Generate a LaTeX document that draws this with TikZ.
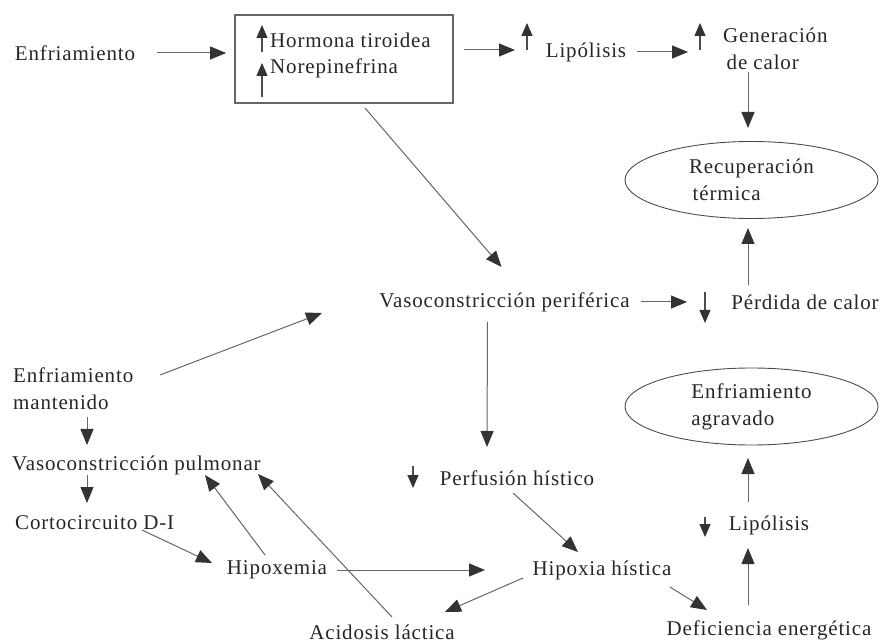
\documentclass[tikz,border=0pt]{standalone}
\usepackage{fontspec}
\setmainfont{Liberation Serif}[LetterSpace=4]
\usetikzlibrary{arrows.meta,shapes.geometric,calc}

\begin{document}
\begin{tikzpicture}[x=1pt,y=-1pt,
    texto/.style={inner sep=0pt, text=black!85, font=\fontsize{21}{27}\selectfont},
    flecha/.style={draw=black!60, line width=1pt, -{Triangle[length=16pt,width=13pt,color=black!80]}},
    indic/.style={draw=black!70, line width=1.1pt, -{Triangle[length=13pt,width=11pt,color=black!80]}},
    globo/.style={texto, ellipse, draw=black!70, line width=0.9pt, align=left, minimum width=253pt, minimum height=77pt}]
    \useasboundingbox (0,0) rectangle (887,644);

    % Top row: cold stimulus and the hormone box
    \node[texto] (enf1) at (75,53) {Enfriamiento};
    \node[draw=black!60, line width=1.8pt, minimum width=218pt, minimum height=88pt, inner sep=0pt] (caja) at (344,59) {};
    \node[texto, anchor=west] (hormona) at (270,40) {Hormona tiroidea};
    \node[texto, anchor=west] (norep) at (270,68) {Norepinefrina};
    \node[texto] (lip1) at (586,52) {Lipólisis};
    \node[texto, anchor=west, align=left] (gen) at (723,48.5) {Generación\\\,de calor};
    \node[globo] (rec) at (751.5,180) {Recuperación\\\,térmica};

    % Middle row
    \node[texto] (vper) at (504.5,302) {Vasoconstricción periférica};
    \node[texto] (perd) at (805,302) {Pérdida de calor};
    \node[texto, anchor=west, align=left] (enf2) at (13,389) {Enfriamiento\\mantenido};
    \node[globo] (agr) at (751.5,406.5) {Enfriamiento\\agravado};

    % Lower part
    \node[texto, anchor=west] (vpul) at (12,465) {Vasoconstricción pulmonar};
    \node[texto, anchor=west] (cort) at (15,523) {Cortocircuito D-I};
    \node[texto] (perf) at (517,478) {Perfusión hístico};
    \node[texto] (lip2) at (769,525) {Lipólisis};
    \node[texto] (hipoxemia) at (277,570) {Hipoxemia};
    \node[texto] (hipoxia) at (602,570) {Hipoxia hística};
    \node[texto] (acid) at (382,632) {Acidosis láctica};
    \node[texto] (def) at (769,630) {Deficiencia energética};

    % Small up/down marks in front of the labels
    \draw[indic] ($(hormona.west)+(-8,12)$) -- ($(hormona.west)+(-8,-15)$);
    \draw[indic] ($(norep.west)+(-8,29)$) -- ($(norep.west)+(-8,-5)$);
    \draw[indic] ($(lip1)+(-59,-2)$) -- ($(lip1)+(-59,-29)$);
    \draw[indic] ($(gen.west)+(-23,1.5)$) -- ($(gen.west)+(-23,-25.5)$);
    \draw[indic] ($(perd)+(-100,-10)$) -- ($(perd)+(-100,21)$);
    \draw[indic] ($(perf)+(-104,-12)$) -- ($(perf)+(-104,10)$);
    \draw[indic] ($(lip2)+(-64,-8)$) -- ($(lip2)+(-64,12)$);

    % Top chain
    \draw[flecha] ($(enf1)+(82,0)$) -- ($(caja.west)+(-8,-6)$);
    \draw[flecha] ($(caja.east)+(10,-9)$) -- ($(lip1)+(-71,-2)$);
    \draw[flecha] ($(lip1)+(51,0)$) -- ($(gen.west)+(-35,3.5)$);
    \draw[flecha] ($(rec)+(-3.5,-108)$) -- ($(rec)+(-3.5,-52)$);
    \draw[flecha] ($(caja)+(21,49)$) -- ($(vper)+(-3,-35)$);

    % Heat loss branch
    \draw[flecha] ($(vper)+(136,0)$) -- ($(perd)+(-118,0)$);
    \draw[flecha] ($(rec)+(-3.5,105)$) -- ($(rec)+(-3.5,48)$);
    \draw[flecha] ($(enf2.west)+(147,-14)$) -- ($(vper)+(-182.5,11)$);

    % Left column
    \draw[flecha] ($(enf2.west)+(74,28)$) -- ($(vpul.west)+(75,-20)$);
    \draw[flecha] ($(vpul.west)+(75,10)$) -- ($(cort.west)+(72,-20)$);
    \draw[flecha] ($(cort.west)+(127,7)$) -- ($(hipoxemia)+(-65,-7)$);
    \draw[flecha] ($(hipoxemia)+(-12,-15)$) -- ($(vpul.west)+(193,10)$);
    \draw[flecha] ($(hipoxemia)+(60,0)$) -- ($(hipoxia)+(-117,0)$);
    \draw[flecha] ($(acid)+(10,-15)$) -- ($(vpul.west)+(246,9)$);

    % Tissue branch
    \draw[flecha] ($(vper)+(-17,20)$) -- ($(perf)+(-30,-31)$);
    \draw[flecha] ($(perf)+(-4,15)$) -- ($(hipoxia)+(-24,-18)$);
    \draw[flecha] ($(hipoxia)+(-79,8)$) -- ($(acid)+(63,-20)$);
    \draw[flecha] ($(hipoxia)+(68,17)$) -- ($(def)+(-62,-20)$);
    \draw[flecha] ($(def)+(-21,-25)$) -- ($(lip2)+(-21,23)$);
    \draw[flecha] ($(lip2)+(-21,-23)$) -- ($(agr)+(-3.5,51.5)$);
\end{tikzpicture}
\end{document}
